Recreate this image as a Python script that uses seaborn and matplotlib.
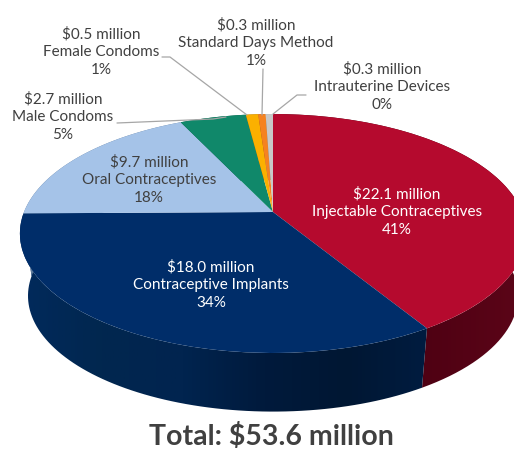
import numpy as np
import seaborn as sns
import matplotlib.pyplot as plt
from matplotlib.path import Path
from matplotlib.transforms import Transform

# funding by method, $ million
methods = ['Injectable Contraceptives', 'Contraceptive Implants', 'Oral Contraceptives',
           'Male Condoms', 'Female Condoms', 'Standard Days Method', 'Intrauterine Devices']
values = [22.1, 18.0, 9.7, 2.7, 0.5, 0.3, 0.3]
percents = [41, 34, 18, 5, 1, 1, 0]
total = 53.6

top_colors = ['#b50a2e', '#002d69', '#a5c3e8', '#10886a', '#fbb000', '#f58220', '#c8c8c8']
side_colors = [['#470010', '#4c0012', '#5c0518'],
               ['#012a5c', '#01274f', '#01244f', '#001a3c', '#001733', '#001c40'],
               ['#5f7c9c', '#5f7c9c'], ['#0a5240', '#0a5240'], ['#96690a', '#96690a'],
               ['#934e13', '#934e13'], ['#777777', '#777777']]
label_colors = ['white', 'white', '#404040', '#404040', '#404040', '#404040', '#404040']
label_pos = [(397, 212), (211, 285), (149, 180), (63, 117), (101, 52), (256, 43), (382, 87)]

leaders = [([117, 213, 226], [123, 119, 117]),
           ([162, 170, 247], [57, 57, 115]),
           ([263, 262], [69, 115]),
           ([306, 297, 273], [95, 95, 114])]


class Persp(Transform):
    # tilted disc: unit circle -> pixel coords, the front gets bigger
    input_dims = 2
    output_dims = 2

    def __init__(self, cx, cy, sx, sy, k):
        super().__init__()
        self.cx, self.cy, self.sx, self.sy, self.k = cx, cy, sx, sy, k

    def transform_non_affine(self, xy):
        xy = np.asarray(xy, dtype=float)
        w = 1 + self.k * xy[:, 1]
        return np.column_stack([self.cx + self.sx * xy[:, 0] / w, self.cy - self.sy * xy[:, 1] / w])


sns.set_theme(style='white')
plt.rcParams['font.family'] = ['Lato', 'DejaVu Sans']

fig = plt.figure(figsize=(5.14, 4.5), dpi=100)
ax = fig.add_axes([0, 0, 1, 1])

wedges, _ = ax.pie(values, colors=top_colors, startangle=90, counterclock=False,
                   wedgeprops={'linewidth': 0})

top = Persp(273, 212, 249, 115.6, 0.18)
bottom = Persp(273, 275, 241, 112, 0.18)

# walls first, the top face covers whatever is at the back
for wedge, stops in zip(wedges, side_colors):
    t = np.radians(np.linspace(wedge.theta1, wedge.theta2, 80))
    rim = np.column_stack([np.cos(t), np.sin(t)])
    outline = np.vstack([top.transform(rim), bottom.transform(rim)[::-1]])
    cmap = sns.blend_palette(stops, n_colors=256, as_cmap=True)
    lo, hi = outline[:, 0].min(), outline[:, 0].max()
    im = ax.imshow(np.linspace(0, 1, 256)[None, :], cmap=cmap, extent=(lo, hi, 450, 0),
                   aspect='auto', zorder=1)
    im.set_clip_path(Path(np.vstack([outline, outline[:1]]), closed=True), ax.transData)

for wedge in wedges:
    wedge.set_transform(top + ax.transData)
    wedge.set_zorder(2)

ax.set_aspect('auto')
ax.set_xlim(0, 514)
ax.set_ylim(450, 0)
ax.axis('off')

for xs, ys in leaders:
    ax.plot(xs, ys, color='#a6a6a6', lw=0.9, zorder=3)

for m, v, p, c, (x, y) in zip(methods, values, percents, label_colors, label_pos):
    ax.text(x, y, f'${v:.1f} million\n{m}\n{p}%', color=c, fontsize=11, ha='center', va='center',
            linespacing=1.33, zorder=4)

ax.text(271, 444.5, f'Total: ${total} million', color='#404040', fontsize=20.5, fontweight='bold',
        ha='center', va='baseline', zorder=4)

fig.savefig('out.png', dpi=100)
